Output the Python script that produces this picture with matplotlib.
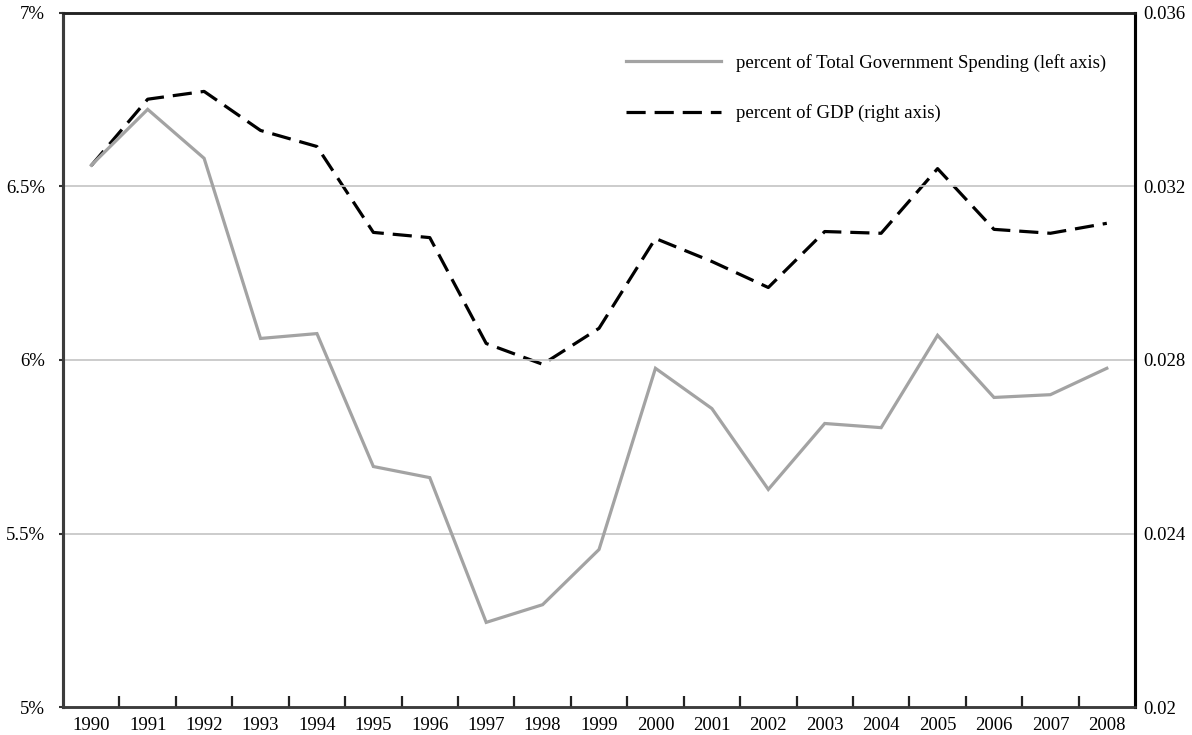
import numpy as np
import matplotlib
matplotlib.use("Agg")
import matplotlib.pyplot as plt

# ----------------------------------------------------------------------
# Data
# ----------------------------------------------------------------------
years = [str(y) for y in range(1990, 2009)]

pct_spending = [6.561, 6.722, 6.581, 6.062, 6.076, 5.693, 5.661, 5.244, 5.295,
                5.454, 5.976, 5.860, 5.627, 5.817, 5.805, 6.071, 5.892, 5.900,
                5.976]

pct_gdp = [0.03248, 0.03401, 0.03419, 0.03329, 0.03292, 0.03094, 0.03082,
           0.02838, 0.02790, 0.02873, 0.03080, 0.03027, 0.02967, 0.03096,
           0.03092, 0.03241, 0.03101, 0.03092, 0.03115]

left_ticks = [5.0, 5.5, 6.0, 6.5, 7.0]
left_labels = ['5%', '5.5%', '6%', '6.5%', '7%']
right_ticks = [0.020, 0.024, 0.028, 0.032, 0.036]
right_labels = ['0.02', '0.024', '0.028', '0.032', '0.036']

label_spend = 'percent of Total Government Spending (left axis)'
label_gdp = 'percent of GDP (right axis)'

# ----------------------------------------------------------------------
# Figure
# ----------------------------------------------------------------------
plt.rcParams['font.family'] = ['Liberation Serif', 'DejaVu Serif']
fs = 13.5

fig = plt.figure(figsize=(11.92, 7.35), dpi=100)
ax = fig.add_axes([0.0529, 0.038, 0.8993, 0.9445])
ax2 = ax.twinx()

x = np.arange(len(years))

# gridlines (left axis)
for v in left_ticks[1:-1]:
    ax.axhline(v, color='#c4c4c4', lw=1.2, zorder=1)

l1, = ax.plot(x, pct_spending, color='#a3a3a3', lw=2.3, zorder=3,
              solid_joinstyle='miter', label=label_spend)
l2, = ax2.plot(x, pct_gdp, color='black', lw=2.3, linestyle=(0, (6.0, 2.8)),
               zorder=3, label=label_gdp)

ax.set_xlim(-0.5, len(years) - 0.5)
ax.set_ylim(5, 7)
ax2.set_ylim(0.020, 0.036)

ax.set_xticks(x)
ax.set_xticklabels(years, fontsize=fs)
ax.set_xticks(x[:-1] + 0.5, minor=True)
ax.tick_params(axis='x', which='major', length=0, pad=7)
ax.tick_params(axis='x', which='minor', direction='in', length=8, width=1.6,
               color='#222222')

ax.set_yticks(left_ticks)
ax.set_yticklabels(left_labels, fontsize=fs)
ax.tick_params(axis='y', direction='out', length=3, width=1.5,
               color='#333333', pad=10)

ax2.set_yticks(right_ticks)
ax2.set_yticklabels(right_labels, fontsize=fs)
ax2.tick_params(axis='y', length=0, pad=6)

for a in (ax, ax2):
    a.spines['left'].set_color('#3c3c3c')
    a.spines['left'].set_linewidth(2.2)
    a.spines['bottom'].set_color('#3c3c3c')
    a.spines['bottom'].set_linewidth(1.8)
    a.spines['top'].set_color('#222222')
    a.spines['top'].set_linewidth(1.8)
    a.spines['right'].set_color('black')
    a.spines['right'].set_linewidth(2.2)

ax.set_zorder(ax2.get_zorder() + 1)
ax.patch.set_visible(False)

leg = ax.legend([l1, l2], [label_spend, label_gdp], loc='upper left',
                bbox_to_anchor=(0.518, 0.952), frameon=False, fontsize=fs,
                handlelength=5.1, handletextpad=0.75, labelspacing=1.75,
                borderaxespad=0)

fig.savefig('out.png', dpi=100)
